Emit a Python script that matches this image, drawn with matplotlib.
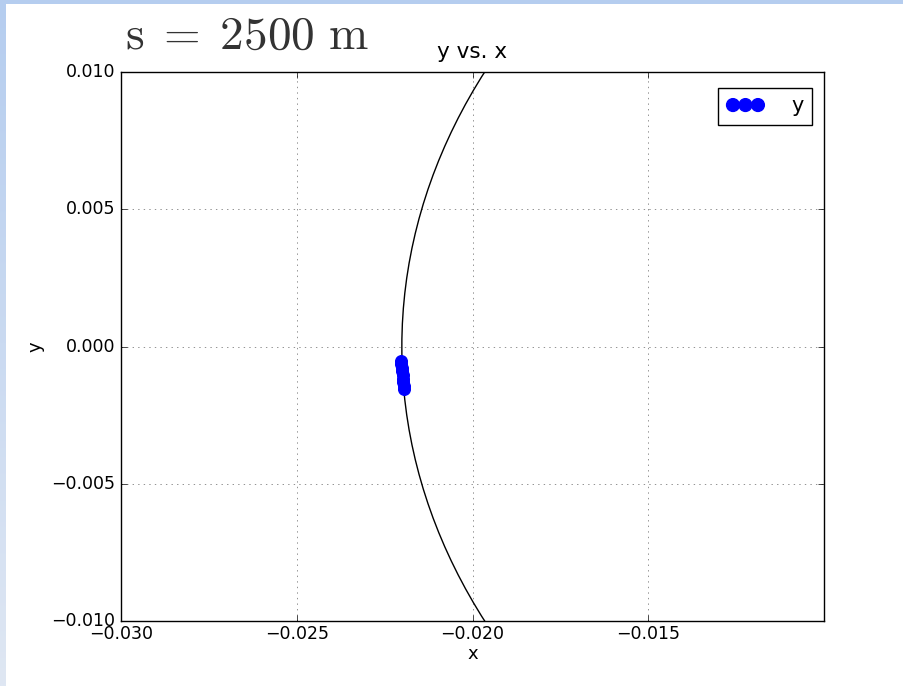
import numpy as np
import matplotlib
matplotlib.use("Agg")
import matplotlib.pyplot as plt
from matplotlib.patches import Circle

plt.style.use("classic")
plt.rcParams["mathtext.fontset"] = "cm"

# reference circle: centre and radius
orbit_centre = (0.00039, 0.0)
orbit_radius = 0.0224

# tracked positions
pos_x = [-0.02203, -0.02202, -0.02201, -0.02200, -0.02199, -0.02198, -0.02197, -0.02196, -0.02195]
pos_y = [-0.00052, -0.00065, -0.00078, -0.00091, -0.00104, -0.00117, -0.00130, -0.00143, -0.00155]

x_ticks = [-0.030, -0.025, -0.020, -0.015]
y_ticks = [-0.010, -0.005, 0.000, 0.005, 0.010]


def fmt(v, pos=None):
    return ("%.3f" % v).replace("-", "\u2212")


fig = plt.figure(figsize=(9.04, 6.86), dpi=100, facecolor="white")

# light blue frame on the left and top edges
band = fig.add_axes([0, 0, 6 / 904, 1])
grad = np.linspace(0, 1, 256).reshape(-1, 1)
band.imshow(grad, aspect="auto", cmap=matplotlib.colors.LinearSegmentedColormap.from_list(
    "edge", ["#b5cdef", "#dfe7f3"]), extent=[0, 1, 0, 1])
band.set_axis_off()
top = fig.add_axes([0, 1 - 4 / 686, 1, 4 / 686])
top.set_facecolor("#b5cdef")
top.set_xticks([])
top.set_yticks([])
for s in top.spines.values():
    s.set_visible(False)

ax = fig.add_axes([121 / 904, 1 - 621 / 686, 703 / 904, 549 / 686])
ax.add_patch(Circle(orbit_centre, orbit_radius, fill=False, color="black", lw=1))
ax.scatter(pos_x, pos_y, s=70, c="blue", edgecolors="blue", label="y", zorder=3)

ax.set_xlim(-0.030, -0.010)
ax.set_ylim(-0.010, 0.010)
ax.set_xticks(x_ticks)
ax.set_yticks(y_ticks)
ax.xaxis.set_major_formatter(matplotlib.ticker.FuncFormatter(fmt))
ax.yaxis.set_major_formatter(matplotlib.ticker.FuncFormatter(fmt))
ax.tick_params(labelsize=12.5)
ax.tick_params(axis="x", pad=3)
ax.grid(True, color="black", linestyle=":", alpha=0.6)
ax.set_title("y vs. x", fontsize=15.5, pad=10)
ax.set_xlabel("x", labelpad=1, fontsize=13)
ax.set_ylabel("y", labelpad=5, fontsize=13)
ax.legend(loc="upper right", bbox_to_anchor=(812 / 904, 1 - 88 / 686),
          bbox_transform=fig.transFigure, borderaxespad=0,
          scatterpoints=3, scatteryoffsets=[0.5], handlelength=1.8,
          handletextpad=1.3, markerscale=1.1, fontsize=15)

fig.text(125 / 904, 1 - 36 / 686, r"$\mathrm{s\;=\;2500\ m}$", fontsize=34,
         color="#333333", va="center", ha="left")

fig.savefig("out.png", dpi=100, facecolor="white")
